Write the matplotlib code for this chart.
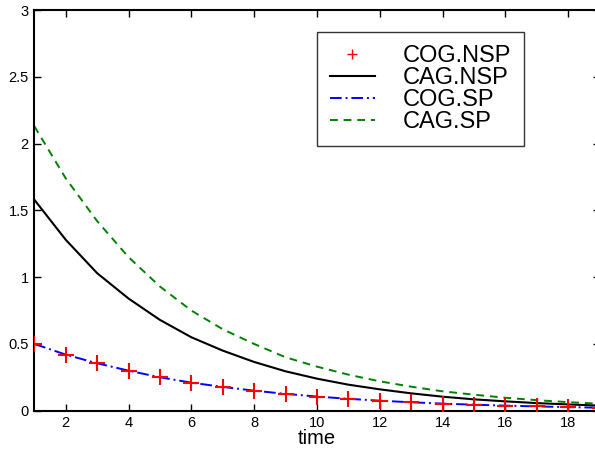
import matplotlib
matplotlib.use("Agg")
import matplotlib.pyplot as plt
import numpy as np

plt.rcParams['font.family'] = ['Liberation Sans', 'DejaVu Sans']

time = list(range(1, 20))
cog_nsp = [0.50, 0.42, 0.355, 0.30, 0.25, 0.21, 0.178, 0.15, 0.126, 0.106,
           0.089, 0.075, 0.063, 0.053, 0.045, 0.038, 0.032, 0.027, 0.022]
cag_nsp = [1.58, 1.28, 1.03, 0.84, 0.68, 0.55, 0.45, 0.365, 0.295, 0.24,
           0.195, 0.16, 0.13, 0.105, 0.085, 0.07, 0.057, 0.047, 0.038]
cog_sp = [0.50, 0.42, 0.355, 0.30, 0.25, 0.21, 0.178, 0.15, 0.126, 0.106,
          0.089, 0.075, 0.063, 0.053, 0.045, 0.038, 0.032, 0.027, 0.022]
cag_sp = [2.13, 1.74, 1.42, 1.15, 0.93, 0.75, 0.61, 0.50, 0.40, 0.33,
          0.27, 0.22, 0.18, 0.145, 0.12, 0.097, 0.079, 0.064, 0.052]
labels = ['COG.NSP', 'CAG.NSP', 'COG.SP', 'CAG.SP']
xticks = [2, 4, 6, 8, 10, 12, 14, 16, 18]
yticks = [0, 0.5, 1, 1.5, 2, 2.5, 3]
ytick_labels = ['0', '0.5', '1', '1.5', '2', '2.5', '3']

fig = plt.figure(figsize=(5.95, 4.51), dpi=100)
ax = fig.add_axes([34.3/595, 40.3/451, (599.5-34.3)/595, (410.7-10)/451])

ax.plot(time, cog_nsp, linestyle='none', marker='+', color='red',
        markersize=11, markeredgewidth=1.5, label=labels[0], zorder=3)
ax.plot(time, cag_nsp, color='black', linewidth=1.5, label=labels[1])
ax.plot(time, cog_sp, color='blue', linewidth=1.4, linestyle=(0, (6, 2, 1, 2)),
        label=labels[2])
ax.plot(time, cag_sp, color=(0, 0.5, 0), linewidth=1.4, linestyle=(0, (4, 3)),
        label=labels[3])

ax.set_xlim(1, 19)
ax.set_ylim(0, 3)
ax.set_xticks(xticks)
ax.set_xticklabels([str(v) for v in xticks])
ax.set_yticks(yticks)
ax.set_yticklabels(ytick_labels)
ax.tick_params(direction='in', length=5, width=1, top=True, right=True,
               labelsize=10.5, pad=4)
for s in ax.spines.values():
    s.set_linewidth(1.5)
ax.set_xlabel('time', fontsize=14.5, labelpad=-1)

leg = ax.legend(loc='upper left', bbox_to_anchor=((316.7-34.3)/(599.5-34.3), 1-(32.3-10)/(400.7)),
                fontsize=17, frameon=True, fancybox=False, edgecolor='black',
                labelspacing=0.0, handlelength=1.9, handletextpad=1.2,
                borderpad=0.55, borderaxespad=0, markerscale=0.7)
leg.get_frame().set_linewidth(1.0)
for h in leg.legend_handles:
    try:
        h.set_markeredgewidth(1.0)
    except Exception:
        pass

fig.savefig('out.png', dpi=100)
